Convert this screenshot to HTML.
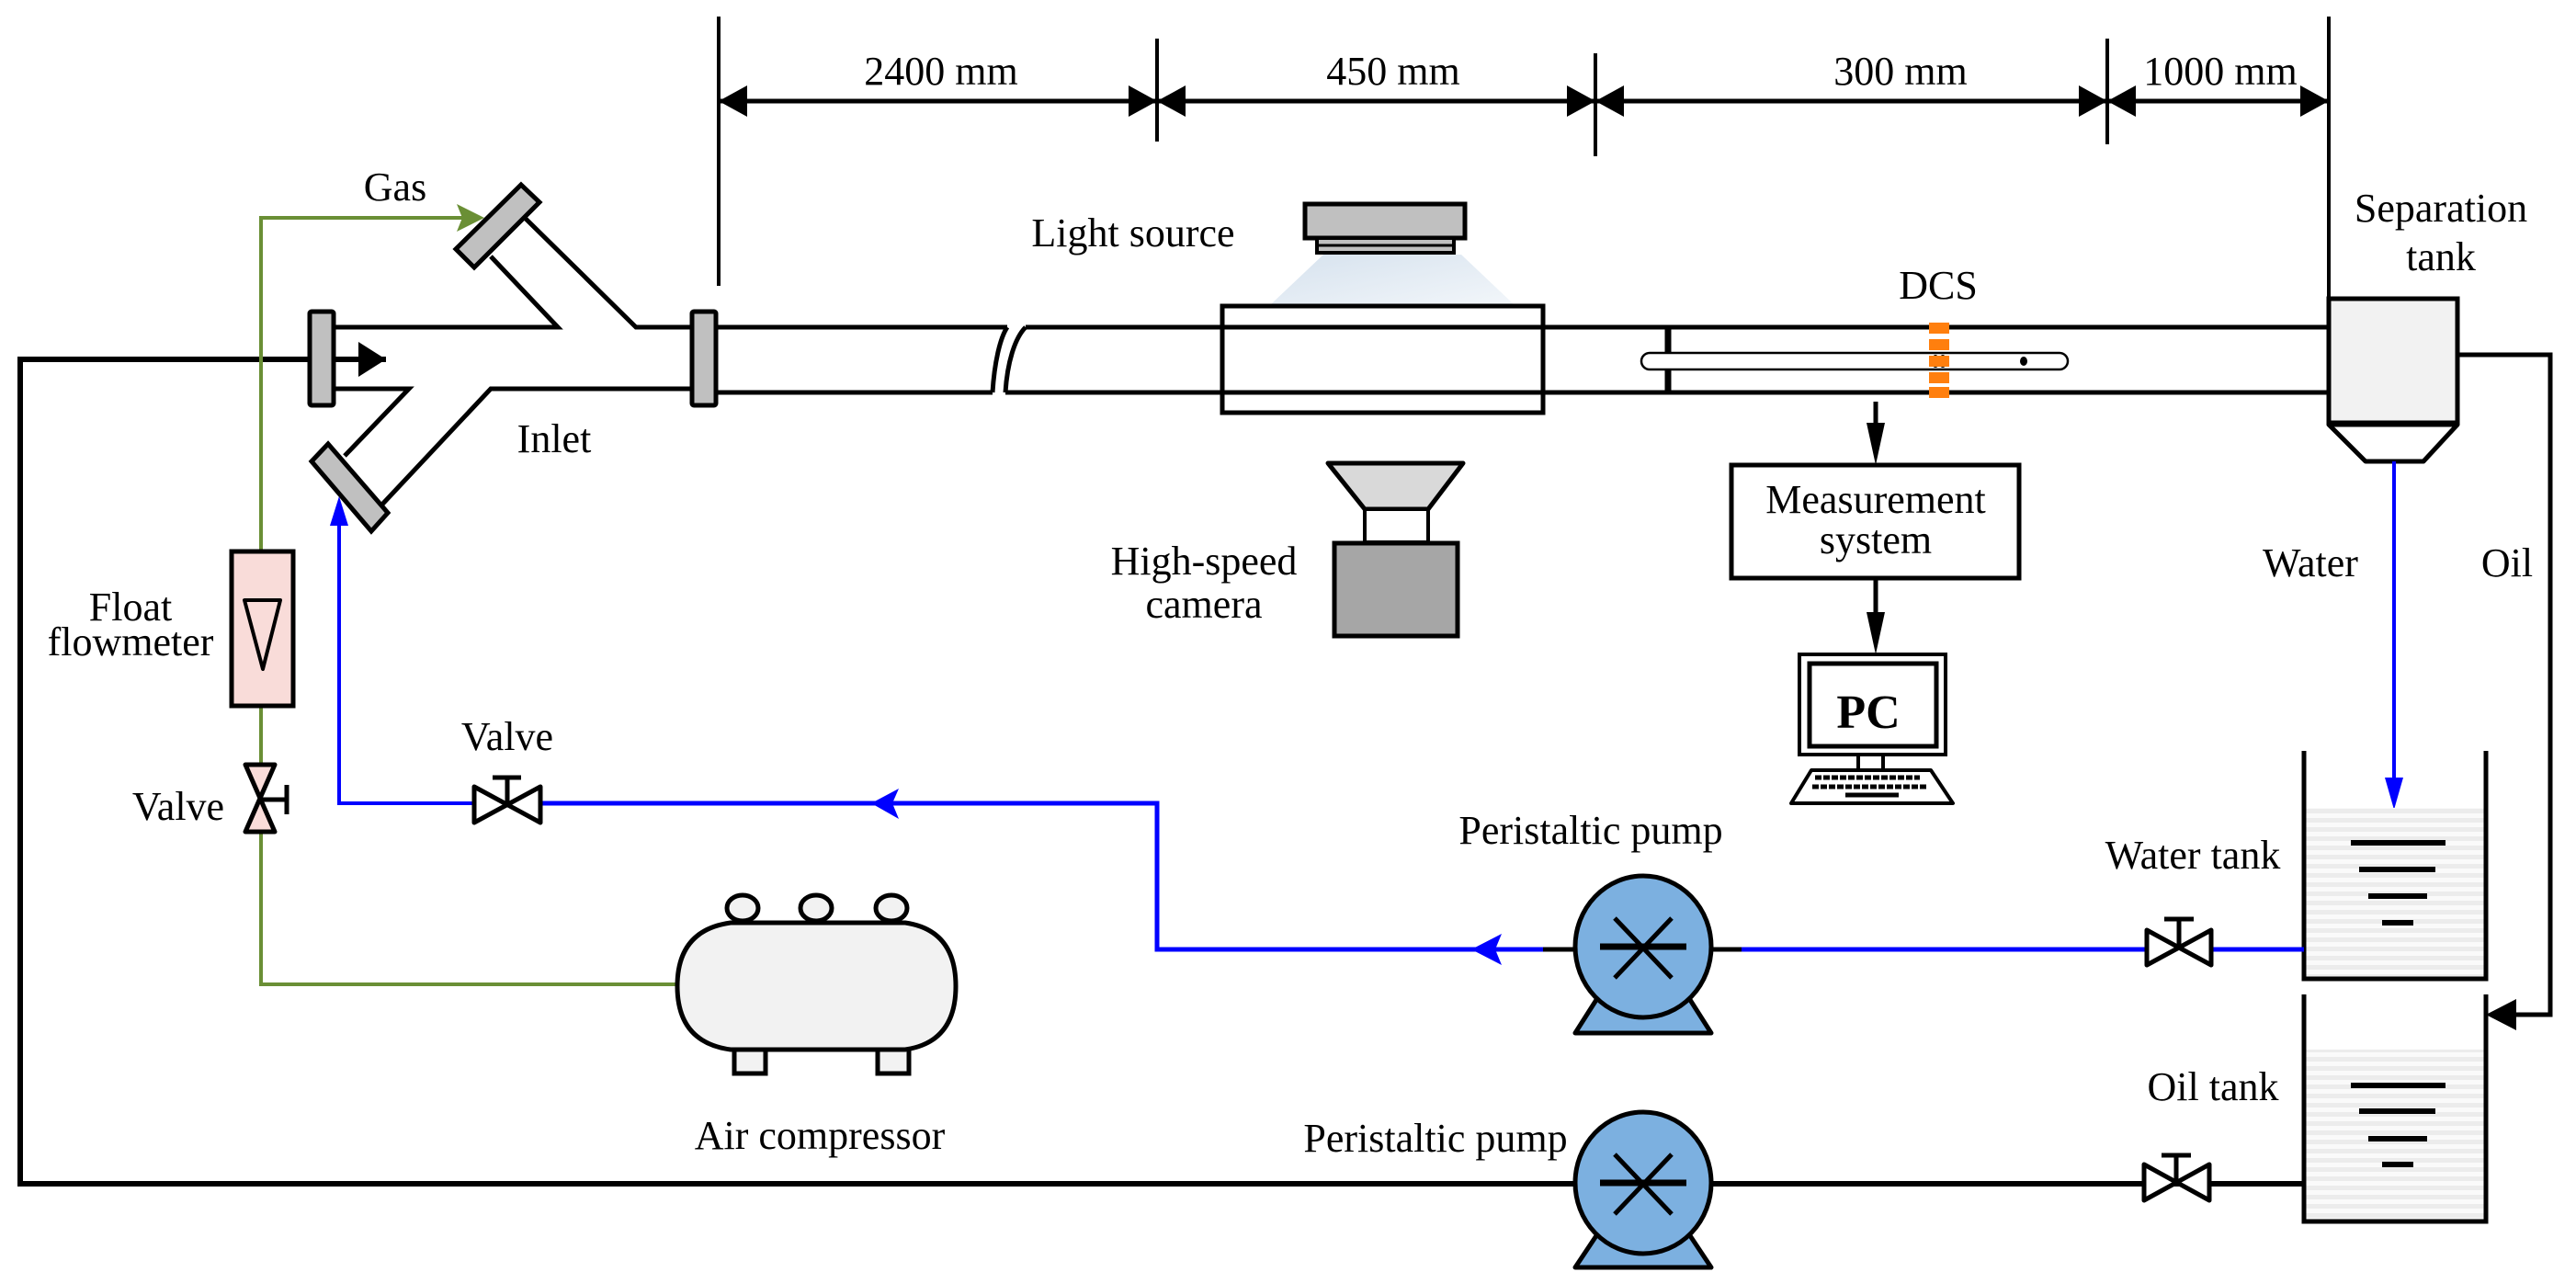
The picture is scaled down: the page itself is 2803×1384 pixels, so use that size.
<!DOCTYPE html>
<html><head><meta charset="utf-8"><style>
html,body{margin:0;padding:0;background:#fff;}
svg{display:block;}
svg text{font-family:"Liberation Serif","Times New Roman",Times,serif !important;font-size:44px;fill:#000;}
</style></head><body>
<svg width="2803" height="1384" viewBox="0 0 2803 1384" xmlns="http://www.w3.org/2000/svg" font-family="Liberation Serif, Times New Roman, serif">
<defs>
<linearGradient id="lg" x1="0" y1="0" x2="1" y2="1"><stop offset="0" stop-color="#d6e2ee"/><stop offset="1" stop-color="#f2f6fa"/></linearGradient>
<pattern id="st" width="10" height="10" patternUnits="userSpaceOnUse"><rect width="10" height="10" fill="#fafafa"/><rect width="10" height="5" fill="#ececec"/></pattern>
</defs>
<g stroke="#000" stroke-width="5" fill="none">
<line x1="782" y1="18" x2="782" y2="311" stroke-width="4"/>
<line x1="1259" y1="42" x2="1259" y2="154" stroke-width="4"/>
<line x1="1736" y1="58" x2="1736" y2="170" stroke-width="4"/>
<line x1="2293" y1="42" x2="2293" y2="157" stroke-width="4"/>
<line x1="2534" y1="18" x2="2534" y2="325" stroke-width="4"/>
<line x1="782" y1="110" x2="2534" y2="110" stroke-width="5"/>
</g>
<g fill="#000">
<polygon points="782,110 813,93 813,127"/>
<polygon points="1259,110 1228,93 1228,127"/>
<polygon points="1259,110 1290,93 1290,127"/>
<polygon points="1736,110 1705,93 1705,127"/>
<polygon points="1736,110 1767,93 1767,127"/>
<polygon points="2293,110 2262,93 2262,127"/>
<polygon points="2293,110 2324,93 2324,127"/>
<polygon points="2534,110 2503,93 2503,127"/>
</g>
<text x="1024" y="92" text-anchor="middle">2400 mm</text>
<text x="1516" y="92" text-anchor="middle">450 mm</text>
<text x="2068" y="92" text-anchor="middle">300 mm</text>
<text x="2416" y="92" text-anchor="middle">1000 mm</text>

<polyline points="420,391 22,391 22,1288 2507,1288" stroke="#000" stroke-width="6" fill="none"/>
<polygon points="420,391 390,372 390,410" fill="#000"/>

<g stroke="#000" stroke-width="5" fill="none">
<polyline points="571,237 692,356 753,356"/>
<polyline points="534,279 607,356 362,356"/>
<polyline points="363,423 445,423 375,496"/>
<polyline points="411,554 534,423 753,423"/>
</g>
<g fill="#c0c0c0" stroke="#000" stroke-width="5">
<polygon points="567,201 587,220 516,291 496,271"/>
<rect x="337" y="339" width="26" height="102" rx="2"/>
<polygon points="357,483 339,502 404,578 422,558"/>
<rect x="753" y="339" width="26" height="102" rx="2"/>
</g>

<g stroke="#000" stroke-width="5" fill="none">
<line x1="779" y1="356" x2="1096" y2="356"/>
<line x1="779" y1="427" x2="1080" y2="427"/>
<path d="M1096,356 C1088,368 1082,395 1080,427"/>
<path d="M1116,356 C1104,368 1096,395 1094,427"/>
<line x1="1116" y1="356" x2="2534" y2="356"/>
<line x1="1094" y1="427" x2="2534" y2="427"/>
</g>
<polygon points="1440,277 1590,277 1647,331 1383,331" fill="url(#lg)"/>
<rect x="1420" y="222" width="174" height="37" fill="#c0c0c0" stroke="#000" stroke-width="5"/>
<rect x="1433" y="259" width="149" height="16" fill="#c0c0c0" stroke="#000" stroke-width="4"/>
<line x1="1433" y1="267" x2="1582" y2="267" stroke="#000" stroke-width="3"/>
<rect x="1330" y="333" width="349" height="116" fill="none" stroke="#000" stroke-width="5"/>
<text x="1233" y="268" text-anchor="middle">Light source</text>

<polygon points="1445,504 1592,504 1554,554 1485,554" fill="#d9d9d9" stroke="#000" stroke-width="5" stroke-linejoin="round"/>
<rect x="1485" y="554" width="69" height="36" fill="#fff" stroke="#000" stroke-width="4"/>
<rect x="1452" y="591" width="134" height="101" fill="#a6a6a6" stroke="#000" stroke-width="5"/>
<text x="1310" y="625" text-anchor="middle">High-speed</text>
<text x="1310" y="672" text-anchor="middle">camera</text>

<line x1="1815" y1="356" x2="1815" y2="427" stroke="#000" stroke-width="7"/>
<rect x="1786" y="384" width="464" height="18" rx="9" fill="#fff" stroke="#000" stroke-width="2.5"/>
<ellipse cx="2202" cy="393" rx="4" ry="5" fill="#000"/>
<ellipse cx="2106" cy="393" rx="3" ry="6" fill="none" stroke="#000" stroke-width="2"/>
<ellipse cx="2114" cy="393" rx="3" ry="6" fill="none" stroke="#000" stroke-width="2"/>
<g fill="#ff7f0e">
<rect x="2099" y="351" width="22" height="12"/>
<rect x="2099" y="369" width="22" height="12"/>
<rect x="2099" y="387" width="22" height="12"/>
<rect x="2099" y="405" width="22" height="12"/>
<rect x="2099" y="421" width="22" height="12"/>
</g>
<text x="2109" y="325" text-anchor="middle">DCS</text>
<line x1="2041" y1="437" x2="2041" y2="480" stroke="#000" stroke-width="5"/>
<polygon points="2041,506 2031,460 2051,460" fill="#000"/>
<rect x="1884" y="506" width="313" height="123" fill="#fff" stroke="#000" stroke-width="5"/>
<text x="2041" y="558" text-anchor="middle">Measurement</text>
<text x="2041" y="602" text-anchor="middle">system</text>
<line x1="2041" y1="629" x2="2041" y2="680" stroke="#000" stroke-width="5"/>
<polygon points="2041,712 2031,666 2051,666" fill="#000"/>

<rect x="1958" y="712" width="159" height="109" fill="#fff" stroke="#000" stroke-width="4"/>
<rect x="1969" y="722" width="138" height="90" fill="#fff" stroke="#000" stroke-width="5"/>
<text x="2033" y="792" text-anchor="middle" style="font-weight:bold;font-size:52px">PC</text>
<rect x="2022" y="821" width="27" height="17" fill="#fff" stroke="#000" stroke-width="4"/>
<polygon points="1971,838 2101,838 2125,874 1949,874" fill="#fff" stroke="#000" stroke-width="4" stroke-linejoin="round"/>
<g stroke="#000" stroke-width="5" stroke-dasharray="7,2">
<line x1="1975" y1="846" x2="2089" y2="846"/>
<line x1="1972" y1="856" x2="2096" y2="856"/>
</g>
<line x1="2008" y1="865" x2="2066" y2="865" stroke="#000" stroke-width="5"/>

<rect x="2534" y="325" width="140" height="135" fill="#f2f2f2" stroke="#000" stroke-width="5"/>
<polygon points="2534,462 2674,462 2637,502 2574,502" fill="#fff" stroke="#000" stroke-width="5" stroke-linejoin="round"/>
<text x="2656" y="241" text-anchor="middle">Separation</text>
<text x="2656" y="294" text-anchor="middle">tank</text>
<polyline points="2674,386 2775,386 2775,1104 2735,1104" fill="none" stroke="#000" stroke-width="5"/>
<polygon points="2705,1104 2738,1087 2738,1121" fill="#000"/>
<line x1="2605" y1="502" x2="2605" y2="850" stroke="#00f" stroke-width="4"/>
<polygon points="2605,881 2595,846 2615,846" fill="#00f"/>
<text x="2514" y="627" text-anchor="middle">Water</text>
<text x="2728" y="627" text-anchor="middle">Oil</text>

<rect x="2508" y="879" width="196" height="186" fill="url(#st)"/>
<polyline points="2507,817 2507,1065 2705,1065 2705,817" fill="none" stroke="#000" stroke-width="5"/>
<g stroke="#000" stroke-width="6">
<line x1="2558" y1="917" x2="2661" y2="917"/>
<line x1="2567" y1="946" x2="2650" y2="946"/>
<line x1="2577" y1="975" x2="2641" y2="975"/>
<line x1="2592" y1="1004" x2="2626" y2="1004"/>
</g>
<text x="2386" y="945" text-anchor="middle">Water tank</text>
<rect x="2508" y="1142" width="196" height="187" fill="url(#st)"/>
<polyline points="2507,1082 2507,1329 2705,1329 2705,1082" fill="none" stroke="#000" stroke-width="5"/>
<g stroke="#000" stroke-width="6">
<line x1="2558" y1="1181" x2="2661" y2="1181"/>
<line x1="2567" y1="1209" x2="2650" y2="1209"/>
<line x1="2577" y1="1239" x2="2641" y2="1239"/>
<line x1="2592" y1="1267" x2="2626" y2="1267"/>
</g>
<text x="2408" y="1197" text-anchor="middle">Oil tank</text>

<polyline points="2507,1033 2406,1033" stroke="#00f" stroke-width="5" fill="none"/>
<polyline points="2336,1033 1895,1033" stroke="#00f" stroke-width="5" fill="none"/>
<line x1="1862" y1="1033" x2="1895" y2="1033" stroke="#000" stroke-width="5"/>
<line x1="1679" y1="1033" x2="1714" y2="1033" stroke="#000" stroke-width="5"/>
<polyline points="1679,1033 1259,1033 1259,874 588,874" stroke="#00f" stroke-width="5" fill="none"/>
<polyline points="516,874 369,874 369,560" stroke="#00f" stroke-width="4" fill="none"/>
<polygon points="369,540 359,572 379,572" fill="#00f"/>
<polygon points="1601,1033 1634,1016 1627,1033 1634,1050" fill="#00f"/>
<polygon points="948,874 978,858 971,874 978,891" fill="#00f"/>

<g fill="#fff" stroke="#000" stroke-width="5" stroke-linejoin="round">
<polygon points="516,856 588,895 588,856 516,895"/>
<polygon points="2336,1012 2406,1050 2406,1012 2336,1050"/>
<polygon points="2333,1267 2404,1306 2404,1267 2333,1306"/>
</g>
<g stroke="#000" stroke-width="5">
<line x1="552" y1="875" x2="552" y2="846"/><line x1="536" y1="846" x2="567" y2="846"/>
<line x1="2371" y1="1031" x2="2371" y2="1000"/><line x1="2355" y1="1000" x2="2387" y2="1000"/>
<line x1="2368" y1="1286" x2="2368" y2="1257"/><line x1="2352" y1="1257" x2="2384" y2="1257"/>
</g>
<text x="552" y="816" text-anchor="middle">Valve</text>

<g fill="#7cb0e0" stroke="#000" stroke-width="5" stroke-linejoin="round">
<polygon points="1742,1080 1834,1080 1862,1124 1714,1124"/>
<ellipse cx="1788" cy="1030" rx="74" ry="77"/>
<polygon points="1742,1337 1834,1337 1862,1379 1714,1379"/>
<ellipse cx="1788" cy="1287" rx="74" ry="77"/>
</g>
<g stroke="#000" stroke-width="5">
<line x1="1741" y1="1030" x2="1835" y2="1030" stroke-width="7"/>
<line x1="1757" y1="999" x2="1819" y2="1064"/><line x1="1819" y1="999" x2="1757" y2="1064"/>
<line x1="1741" y1="1287" x2="1835" y2="1287" stroke-width="7"/>
<line x1="1757" y1="1256" x2="1819" y2="1321"/><line x1="1819" y1="1256" x2="1757" y2="1321"/>
</g>
<text x="1731" y="918" text-anchor="middle">Peristaltic pump</text>
<text x="1562" y="1253" text-anchor="middle">Peristaltic pump</text>

<polyline points="284,600 284,237 505,237" stroke="#6a8f35" stroke-width="4" fill="none"/>
<polygon points="527,237 497,222 503,237 497,252" fill="#6a8f35"/>
<polyline points="284,768 284,832" stroke="#6a8f35" stroke-width="4" fill="none"/>
<polyline points="284,905 284,1071 737,1071" stroke="#6a8f35" stroke-width="4" fill="none"/>
<text x="430" y="218" text-anchor="middle">Gas</text>
<text x="603" y="492" text-anchor="middle">Inlet</text>

<rect x="252" y="600" width="67" height="168" fill="#f9dcd9" stroke="#000" stroke-width="5"/>
<polygon points="266,653 305,653 286,728" fill="#f9dcd9" stroke="#000" stroke-width="4" stroke-linejoin="round"/>
<text x="142" y="675" text-anchor="middle">Float</text>
<text x="142" y="713" text-anchor="middle">flowmeter</text>
<polygon points="267,832 299,832 267,905 299,905" fill="#f9dcd9" stroke="#000" stroke-width="5" stroke-linejoin="round"/>
<line x1="283" y1="870" x2="312" y2="870" stroke="#000" stroke-width="5"/>
<line x1="312" y1="854" x2="312" y2="886" stroke="#000" stroke-width="5"/>
<text x="194" y="892" text-anchor="middle">Valve</text>

<g fill="#f2f2f2" stroke="#000" stroke-width="5">
<rect x="799" y="1138" width="34" height="30"/>
<rect x="955" y="1138" width="34" height="30"/>
<ellipse cx="808" cy="988" rx="17" ry="14"/>
<ellipse cx="888" cy="988" rx="17" ry="14"/>
<ellipse cx="970" cy="988" rx="17" ry="14"/>
<path d="M795,1004 H985 Q1040,1012 1040,1073 Q1040,1134 985,1142 H795 Q737,1134 737,1073 Q737,1012 795,1004 Z"/>
</g>
<text x="892" y="1250" text-anchor="middle">Air compressor</text>
</svg>
</body></html>
